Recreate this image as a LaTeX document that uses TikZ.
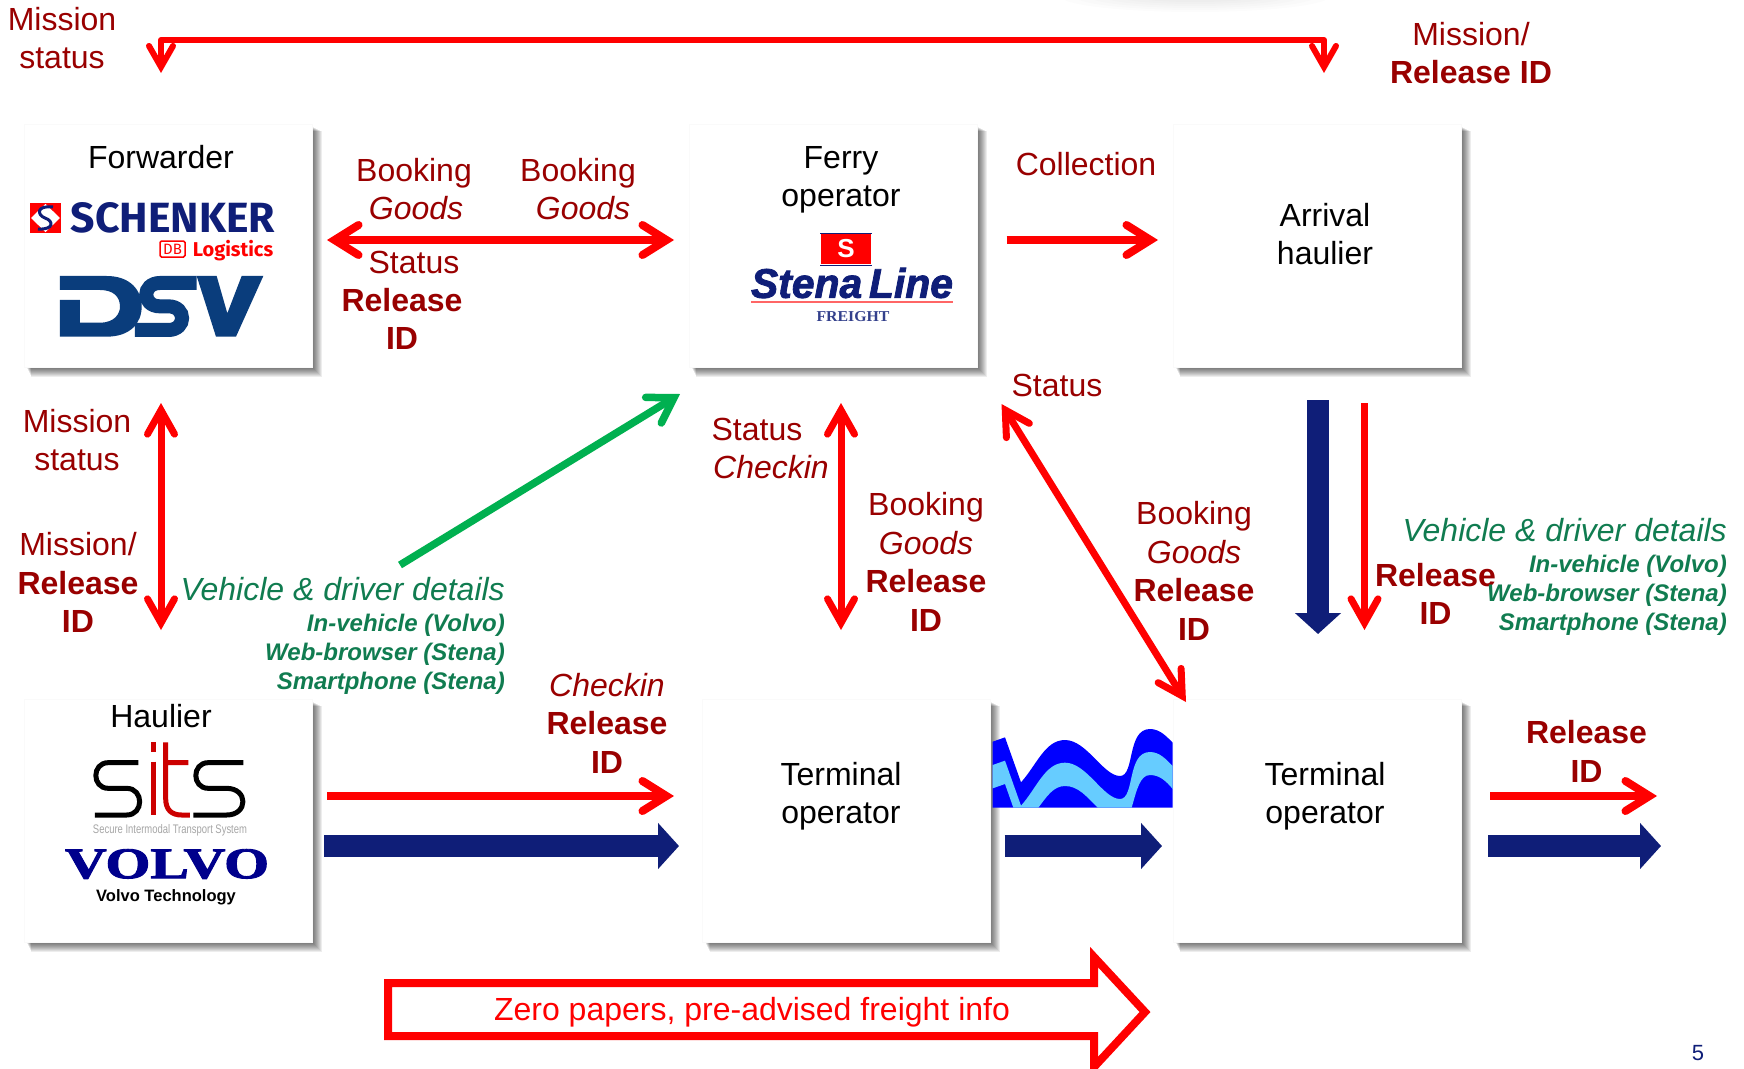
\documentclass[tikz,border=0pt]{standalone}
\usepackage{fontspec}
\usepackage{graphicx}
\setmainfont{Liberation Sans}
\newfontfamily\firaf{Fira Sans}
\newfontfamily\serff{Liberation Serif}
\newfontfamily\heavyserif[FakeBold=2]{Liberation Serif}
\newfontfamily\heavysans[FakeBold=2]{Liberation Sans}
\usetikzlibrary{arrows.meta,backgrounds}
\definecolor{dred}{HTML}{990000}
\definecolor{dgreen}{HTML}{107C50}
\definecolor{arrgreen}{HTML}{00B050}
\definecolor{navy}{HTML}{0F1E78}
\definecolor{wblue}{HTML}{0000FF}
\definecolor{wlight}{HTML}{66CCFF}
\definecolor{dsvblue}{HTML}{0A3D7C}
\tikzset{
  actor/.style={rectangle,fill=white,draw=black!2,line width=.5bp,minimum width=288bp,minimum height=243bp,inner sep=0pt},
  blk/.style={inner sep=0pt,align=center,text=black,font=\fontsize{32bp}{38.5bp}\selectfont},
  lab/.style={inner sep=0pt,align=center,text=dred,font=\fontsize{32bp}{38.5bp}\selectfont},
  glab/.style={inner sep=0pt,align=right,text=dgreen,font=\fontsize{32bp}{38.5bp}\selectfont\itshape},
  gsmall/.style={inner sep=0pt,align=right,text=dgreen,font=\fontsize{24bp}{29bp}\selectfont\bfseries\itshape},
  logo/.style={inner sep=0pt},
  redarr/.style={draw=red,line width=8bp,>={Straight Barb[length=24bp,width=30bp,line cap=round,line join=miter]}},
  thinred/.style={draw=red,line width=7bp,>={Straight Barb[length=24bp,width=27bp,line cap=round,line join=miter]}},
  finered/.style={draw=red,line width=6bp,>={Straight Barb[length=21bp,width=24bp,line cap=round,line join=miter]}},
  grnarr/.style={draw=arrgreen,line width=7.5bp,>={Straight Barb[length=24bp,width=30bp,line cap=round,line join=miter,color=arrgreen]}},
  bluarr/.style={draw=navy,line width=22bp,-{Triangle[length=21bp,width=45bp,color=navy]}}
}
\newcommand{\softshadow}[1]{\foreach \k in {0,...,8}{\fill[black,opacity=.07] ([shift={(3.5+.5*\k,3.5+.5*\k)}]#1.north west) rectangle ([shift={(1.5+\k,1.5+\k)}]#1.south east);}}
\newcommand{\goodsfix}{\hspace*{-4bp}}
\begin{document}
\begin{tikzpicture}[x=1bp,y=-1bp]
\useasboundingbox (0,0) rectangle (1744,1068);
% boxes
\node[actor] (fwd) at (168,245.5) {};
\node[actor] (ferry) at (833,245.5) {};
\node[actor] (arr) at (1317,245.5) {};
\node[actor] (haul) at (168,820.5) {};
\node[actor] (term1) at (846.5,820.5) {};
\node[actor] (term2) at (1317,820.5) {};
\begin{pgfonlayer}{background}
\fill[white] (0,0) rectangle (1744,1068);
\foreach \k in {0,...,5}{\fill[black,opacity=.012] (1195,-4) ellipse ({135-14*\k} and {16-2*\k});}
\softshadow{fwd}\softshadow{ferry}\softshadow{arr}\softshadow{haul}\softshadow{term1}\softshadow{term2}
\end{pgfonlayer}
% box labels
\node[blk] (tfwd) at (161,157) {Forwarder};
\node[blk] (tferry) at (841,180) {Ferry\\operator};
\node[blk] (tarr) at (1325,234) {Arrival\\haulier};
\node[blk] (thaul) at (161,716) {Haulier};
\node[blk] (tt1) at (841,796) {Terminal\\operator};
\node[blk] (tt2) at (1325,796) {Terminal\\operator};
% Schenker logo
\fill[red] (30,203) rectangle (61,233);
\fill[white] (45.5,204) -- (60,218) -- (45.5,232) -- (31,218) -- cycle;
\draw[navy,line width=3bp] (53,207) .. controls (36,205) and (37,215) .. (45,218) .. controls (54,221) and (54,230) .. (38,229);
\node[logo,text=navy] (schenker) at (173,218) {\resizebox{204bp}{30bp}{\firaf\bfseries SCHENKER}};
\draw[red,line width=1.5bp,rounded corners=1.5bp] (160,241) rectangle (185,257);
\node[logo,text=red,font=\fontsize{15bp}{15bp}\selectfont\firaf] (db) at (172.5,249) {DB};
\node[logo,text=red,font=\fontsize{20bp}{20bp}\selectfont\firaf\bfseries] (logi) at (233,251) {Logistics};
% DSV logo
\begin{scope}[shift={(0,100)},x=1/3*1bp,y=-1/3*1bp]
\fill[dsvblue] (180,528) -- (320,528) .. controls (390,528) and (425,570) .. (425,620) .. controls (425,670) and (390,710) .. (320,710) -- (180,710) -- (180,600) -- (240,600) -- (240,668) -- (300,668) .. controls (345,668) and (360,640) .. (360,620) .. controls (360,590) and (340,570) .. (300,570) -- (180,570) -- cycle;
\draw[dsvblue,line width=14bp] (590,549) -- (480,549) .. controls (425,549) and (425,619) .. (480,619) -- (505,619) .. controls (560,619) and (560,690) .. (505,690) -- (405,690);
\fill[dsvblue] (590,528) -- (650,528) -- (682,640) -- (725,528) -- (790,528) -- (708,710) -- (648,710) -- (610,590) -- cycle;
\end{scope}
% Stena logo
\fill[red] (821,234) rectangle (871,264);
\draw[navy,line width=1bp] (820,233) -- (872,233) (820,265) -- (872,265);
\node[logo,text=white,font=\fontsize{26bp}{26bp}\selectfont\bfseries] (stenas) at (846,249) {S};
\node[logo,text=navy] (stena) at (852,283) {\resizebox{202bp}{30bp}{\heavysans\bfseries\itshape Stena\,Line}};
\draw[red!60!white,line width=2bp] (751,302) -- (953,302);
\node[logo,text=navy!85!white] (freight) at (853,317) {\resizebox{73bp}{10bp}{\serff\bfseries FREIGHT}};
% sits logo
\begin{scope}[shift={(0,680)},x=1/3*1bp,y=-1/3*1bp]
\draw[black,line width=5bp] (415,248) -- (325,248) .. controls (275,248) and (275,325) .. (325,325) -- (380,325) .. controls (432,325) and (432,405) .. (380,405) -- (285,405);
\draw[black,line width=5bp] (730,248) -- (625,248) .. controls (575,248) and (575,325) .. (625,325) -- (680,325) .. controls (745,325) and (745,405) .. (680,405) -- (580,405);
\draw[red!80!black,line width=5bp] (460,187) -- (460,215) (460,245) -- (460,405);
\draw[red!80!black,line width=5bp] (497,187) -- (497,355) .. controls (497,390) and (515,405) .. (545,405) -- (570,405) (497,248) -- (565,248);
\end{scope}
\node[logo,text=gray!70] (sitscap) at (170,830) {\resizebox{154bp}{9bp}{Secure Intermodal Transport System}};
\node[logo,text=blue!55!black] (volvo) at (167,864) {\resizebox{204bp}{29bp}{\heavyserif\bfseries VOLVO}};
\node[logo,text=black,font=\fontsize{16.5bp}{17bp}\selectfont\bfseries] (vtech) at (166,897) {Volvo Technology};
% sea wave
\begin{scope}[shift={(980,690)},x=1/3*1bp,y=-1/3*1bp]
\fill[wblue] (38,155) -- (75,142) -- (123,277) .. controls (170,225) and (195,150) .. (255,150) .. controls (320,150) and (370,258) .. (420,258) .. controls (465,258) and (440,117) .. (510,117) .. controls (540,117) and (560,140) .. (578,158) -- (578,353) -- (38,353) -- cycle;
\fill[wlight] (38,225) -- (75,212) -- (123,347) .. controls (170,295) and (195,218) .. (255,218) .. controls (320,218) and (370,327) .. (420,327) .. controls (465,327) and (440,186) .. (510,186) .. controls (540,186) and (560,210) .. (578,228) -- (578,297) .. controls (560,275) and (540,255) .. (510,255) .. controls (480,255) and (470,300) .. (455,353) -- (353,353) .. controls (320,320) and (295,288) .. (255,288) .. controls (220,288) and (200,320) .. (175,353) -- (100,353) -- (75,282) -- (38,295) -- cycle;
\end{scope}
% connector end points
\coordinate (topL) at (161,73);
\coordinate (topLc) at (161,40);
\coordinate (topRc) at (1324,40);
\coordinate (topR) at (1324,73);
\coordinate (bookL) at (327,240);
\coordinate (bookR) at (674,240);
\coordinate (collS) at (1006.5,240);
\coordinate (collE) at (1158,240);
\coordinate (misU) at (161,403);
\coordinate (misD) at (161,630);
\coordinate (chkU) at (841,403);
\coordinate (chkD) at (841,630);
\coordinate (diagU) at (1001.5,404);
\coordinate (diagD) at (1186,702);
\coordinate (grnS) at (400,565);
\coordinate (grnE) at (680,394);
\coordinate (nvS) at (1318,400);
\coordinate (nvE) at (1318,634);
\coordinate (rdS) at (1364.5,403);
\coordinate (rdE) at (1364.5,630);
\coordinate (h1S) at (327,796);
\coordinate (h1E) at (674,796);
\coordinate (b1S) at (324,846);
\coordinate (b1E) at (679,846);
\coordinate (b2S) at (1004.5,846);
\coordinate (b2E) at (1162,846);
\coordinate (h3S) at (1490,796);
\coordinate (h3E) at (1657,796);
\coordinate (b3S) at (1488,846);
\coordinate (b3E) at (1661,846);
% connectors
\draw[finered,<->,line join=round] (topL) -- (topLc) -- (topRc) -- (topR);
\draw[redarr,<->] (bookL) -- (bookR);
\draw[redarr,->] (collS) -- (collE);
\draw[thinred,<->] (misU) -- (misD);
\draw[thinred,<->] (chkU) -- (chkD);
\draw[thinred,<->] (diagU) -- (diagD);
\draw[grnarr,->] (grnS) -- (grnE);
\draw[thinred,->] (rdS) -- (rdE);
\draw[redarr,->] (h1S) -- (h1E);
\draw[redarr,->] (h3S) -- (h3E);
\draw[bluarr] (nvS) -- (nvE);
\draw[bluarr] (b1S) -- (b1E);
\draw[bluarr] (b2S) -- (b2E);
\draw[bluarr] (b3S) -- (b3E);
% labels
\node[lab] (l1) at (62,38) {Mission\\status};
\node[lab] (l2) at (1471,53) {Mission/\\\textbf{Release ID}};
\node[lab] (l3) at (414,189) {Booking\\\textit{Goods}\goodsfix};
\node[lab] (l4) at (578,173) {Booking};
\node[lab] (l4b) at (583,208.5) {\textit{Goods}};
\node[lab] (l5) at (414,262) {Status};
\node[lab] (l6) at (402,319) {\textbf{Release}\\\textbf{ID}};
\node[lab] (l7) at (1086,164) {Collection};
\node[lab] (l8) at (77,440) {Mission\\status};
\node[lab] (l9) at (78,582.5) {Mission/\\\textbf{Release}\\\textbf{ID}};
\node[lab] (l10) at (757,429) {Status};
\node[lab] (l11) at (771,467) {\textit{Checkin}};
\node[lab] (l12) at (926,562) {Booking\\\textit{Goods}\goodsfix\\\textbf{Release}\\\textbf{ID}};
\node[lab] (l13) at (1057,385) {Status};
\node[lab] (l14) at (1194,571) {Booking\\\textit{Goods}\goodsfix\\\textbf{Release}\\\textbf{ID}};
\node[lab] (l15) at (1435.5,594) {\textbf{Release}\\\textbf{ID}};
\node[lab] (l16) at (607,723) {\textit{Checkin}\\\textbf{Release}\\\textbf{ID}};
\node[lab] (l17) at (1586.5,751.5) {\textbf{Release}\\\textbf{ID}};
\node[glab,anchor=east] (g1) at (505,589) {Vehicle \& driver details};
\node[gsmall,anchor=east] (g2) at (505,654) {In-vehicle (Volvo)\\Web-browser (Stena)\\Smartphone (Stena)};
\node[glab,anchor=east] (g3) at (1727,530) {Vehicle \& driver details};
\node[gsmall,anchor=east] (g4) at (1727,595) {In-vehicle (Volvo)\\Web-browser (Stena)\\Smartphone (Stena)};
% big outline arrow
\coordinate (z1) at (388,983);
\coordinate (z2) at (1094,983);
\coordinate (z3) at (1094,957);
\coordinate (z4) at (1145,1012);
\coordinate (z5) at (1094,1067);
\coordinate (z6) at (1094,1036);
\coordinate (z7) at (388,1036);
\draw[red,line width=8bp,miter limit=10] (z1) -- (z2) -- (z3) -- (z4) -- (z5) -- (z6) -- (z7) -- cycle;
\node[inner sep=0pt,text=red,font=\fontsize{32bp}{38.5bp}\selectfont] (zero) at (752,1012.5) {Zero papers, pre-advised freight info};
\node[inner sep=0pt,text=navy,font=\fontsize{22bp}{26bp}\selectfont] (page) at (1698,1053) {5};
\end{tikzpicture}
\end{document}
